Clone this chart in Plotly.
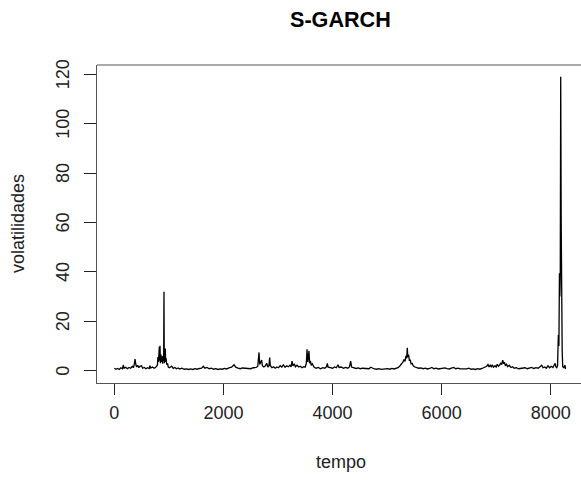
import plotly.graph_objects as go

# Series: time index and volatility values
tempo = [
    1, 30, 60, 90, 120, 150, 165, 180, 210, 240, 270, 300, 330, 350, 370, 380, 395, 410, 430, 450,
    470, 500, 520, 550, 580, 610, 640, 654, 670, 700, 730, 760, 790,
    800, 810, 825, 832, 838, 845, 855, 865, 875, 885, 895, 905, 911, 916, 925, 935, 942, 950, 960, 975, 990,
    1010, 1052, 1080, 1110, 1140, 1170, 1200, 1240, 1280, 1320, 1360, 1400, 1440, 1480, 1520, 1560, 1600,
    1632, 1660, 1700, 1740, 1780, 1820, 1860, 1900, 1940, 1980, 2020, 2060, 2100, 2150, 2195, 2230, 2270,
    2310, 2350, 2400, 2450, 2500, 2550, 2600, 2630,
    2653, 2665, 2680, 2701, 2715, 2740, 2770, 2793, 2815, 2835, 2848, 2860, 2890, 2920, 2950, 2980, 3010,
    3040, 3070, 3100, 3130, 3160, 3190, 3220, 3240, 3258, 3275, 3300, 3320, 3350, 3380, 3410, 3440, 3470,
    3500, 3520, 3533, 3545, 3555, 3569, 3580, 3595, 3610, 3630, 3660, 3700, 3740, 3780, 3820, 3860, 3890,
    3905, 3920, 3960, 4000, 4040, 4070, 4101, 4120, 4160, 4200, 4240, 4280, 4310, 4333, 4350, 4390, 4430,
    4470, 4510, 4550, 4590, 4630, 4670, 4700, 4730, 4770, 4810, 4850, 4890, 4930, 4970, 5010, 5050, 5090,
    5130, 5170, 5200, 5230, 5260, 5290, 5310, 5330, 5345, 5360, 5371, 5380, 5395, 5410, 5425, 5440, 5460,
    5480, 5510, 5540, 5580, 5620, 5660, 5700, 5740, 5780, 5820, 5860, 5900, 5940, 5980, 6020, 6060, 6100,
    6140, 6180, 6220, 6260, 6300, 6340, 6380, 6420, 6460, 6500, 6540, 6580, 6620, 6660, 6700, 6740, 6780,
    6826, 6850, 6870, 6890, 6910, 6930, 6950, 6980, 7000, 7020, 7040, 7060, 7080, 7100, 7120, 7135, 7150,
    7170, 7190, 7210, 7240, 7270, 7300, 7330, 7370, 7410, 7450, 7490, 7530, 7570, 7610, 7650, 7690, 7730,
    7770, 7800, 7834, 7860, 7890, 7920, 7950, 7980, 8010, 8040, 8060, 8080, 8095, 8110, 8125, 8140, 8150,
    8160, 8167, 8175, 8183, 8192, 8200, 8210, 8220, 8240, 8255, 8262, 8270, 8281,
]
volatilidades = [
    1.0, 0.6, 0.9, 0.5, 1.2, 0.8, 2.3, 1.0, 1.4, 0.8, 1.3, 1.0, 1.8, 1.2, 3.0, 4.7, 2.5, 1.5, 2.2, 1.2,
    1.8, 2.0, 1.0, 1.3, 0.8, 1.2, 0.9, 2.0, 1.1, 1.5, 1.0, 1.4, 2.2,
    5.5, 3.5, 9.7, 4.0, 10.1, 3.0, 6.5, 3.5, 5.8, 2.8, 6.0, 4.0, 32.0, 3.0, 5.5, 9.0, 3.5, 5.0, 2.5, 3.0, 1.5,
    1.2, 1.8, 0.9, 1.3, 0.8, 1.1, 0.7, 1.0, 0.6, 0.7, 0.5, 0.7, 0.5, 0.8, 0.6, 0.9, 1.0,
    1.8, 1.0, 1.3, 0.8, 1.0, 0.6, 0.8, 0.5, 0.7, 0.6, 0.9, 0.7, 1.1, 1.4, 2.4, 1.3, 1.0,
    0.8, 1.1, 0.9, 1.0, 0.8, 1.2, 1.3, 1.8,
    7.4, 2.5, 3.5, 4.3, 2.0, 1.5, 2.0, 3.0, 1.5, 2.0, 5.3, 2.0, 1.2, 1.6, 1.0, 1.5, 1.2,
    2.0, 1.5, 2.4, 1.4, 2.0, 1.6, 2.2, 1.5, 3.9, 2.0, 2.8, 1.6, 2.2, 1.5, 1.8, 1.2, 1.6,
    1.4, 3.0, 8.7, 3.5, 5.0, 8.0, 3.0, 4.0, 2.2, 2.8, 1.5, 1.0, 1.3, 0.8, 1.2, 1.0, 1.6,
    3.0, 1.4, 1.2, 1.0, 1.5, 1.2, 2.4, 1.3, 1.5, 1.0, 1.3, 1.0, 1.5, 3.9, 1.5, 1.2, 0.9,
    1.1, 0.8, 1.0, 0.9, 1.1, 0.8, 1.4, 1.0, 0.7, 0.6, 0.8, 0.5, 0.7, 0.6, 0.8, 0.6, 0.9,
    0.7, 1.0, 1.2, 1.8, 2.5, 3.5, 4.5, 3.8, 6.0, 5.0, 9.3, 5.5, 6.5, 4.0, 4.5, 2.8, 3.0,
    2.0, 1.5, 1.2, 1.0, 1.1, 0.8, 1.0, 0.7, 0.9, 1.3, 0.8, 1.0, 0.7, 0.9, 0.8, 1.1, 0.8,
    0.7, 1.0, 1.3, 0.8, 1.0, 0.7, 0.6, 0.8, 0.7, 1.0, 0.6, 0.7, 0.5, 0.8, 0.6, 0.9, 1.3,
    1.8, 2.5, 1.5, 2.2, 1.6, 2.4, 1.4, 2.0, 1.5, 2.6, 1.8, 2.2, 3.0, 2.5, 4.3, 2.8, 3.5,
    2.0, 2.6, 1.6, 2.2, 1.3, 1.6, 1.0, 1.2, 0.8, 1.0, 0.9, 1.2, 0.8, 1.0, 1.3, 0.9, 1.2,
    1.0, 1.4, 2.2, 1.2, 1.5, 1.0, 2.0, 1.2, 1.8, 1.3, 2.0, 3.0, 1.5, 1.2, 2.0, 14.4, 10.0,
    39.5, 30.0, 38.0, 119.0, 60.0, 24.6, 8.0, 1.6, 1.2, 2.0, 2.2, 1.0, 1.0,
]

x_ticks = [0, 2000, 4000, 6000, 8000]
y_ticks = [0, 20, 40, 60, 80, 100, 120]

FONT = "Liberation Sans, Arial, sans-serif"
BOX = "#555555"
TXT = "#222222"

fig = go.Figure(go.Scatter(
    x=tempo, y=volatilidades, mode="lines",
    line=dict(color="black", width=1.3), hoverinfo="skip", showlegend=False,
))

annotations = [
    dict(text="<b>S-GARCH</b>", xref="paper", yref="paper", x=0.504, y=(383 - 20) / 318,
         xanchor="center", yanchor="middle", showarrow=False,
         font=dict(size=21.6, family=FONT, color="black")),
    dict(text="tempo", xref="paper", yref="paper", x=(341 - 97) / 484, y=(383 - 462) / 318,
         xanchor="center", yanchor="middle", showarrow=False,
         font=dict(size=18, family=FONT, color=TXT)),
    dict(text="volatilidades", xref="paper", yref="paper", x=(18 - 97) / 484, y=0.5,
         xanchor="center", yanchor="middle", showarrow=False, textangle=-90,
         font=dict(size=18, family=FONT, color=TXT)),
]
# y tick labels (rotated, R style)
for v in y_ticks:
    annotations.append(dict(
        text=str(v), xref="paper", yref="y", x=(63 - 97) / 484, y=v,
        xanchor="center", yanchor="middle", showarrow=False, textangle=-90,
        font=dict(size=18, family=FONT, color=TXT)))

fig.update_layout(
    width=581, height=481,
    margin=dict(l=97, r=0, t=65, b=98, pad=0),
    paper_bgcolor="white", plot_bgcolor="white",
    font=dict(family=FONT, size=18, color="black"),
    xaxis=dict(
        range=[-317, 8555], tickvals=x_ticks, ticktext=[str(v) for v in x_ticks],
        showgrid=False, zeroline=False, showline=True, linecolor=BOX, linewidth=1,
        ticks="outside", ticklen=11, tickcolor=TXT, tickwidth=1,
        ticklabelstandoff=2,
        tickfont=dict(size=18, color=TXT, family=FONT),
    ),
    yaxis=dict(
        range=[-4.98, 123.77], tickvals=y_ticks, showticklabels=False,
        showgrid=False, zeroline=False, showline=True, linecolor=BOX, linewidth=1,
        ticks="outside", ticklen=12, tickcolor=TXT, tickwidth=1,
    ),
    shapes=[dict(type="line", xref="paper", yref="paper", x0=0, x1=1, y0=1, y1=1,
                 line=dict(color=BOX, width=1))],
    annotations=annotations,
)

fig.write_html("out.html")
